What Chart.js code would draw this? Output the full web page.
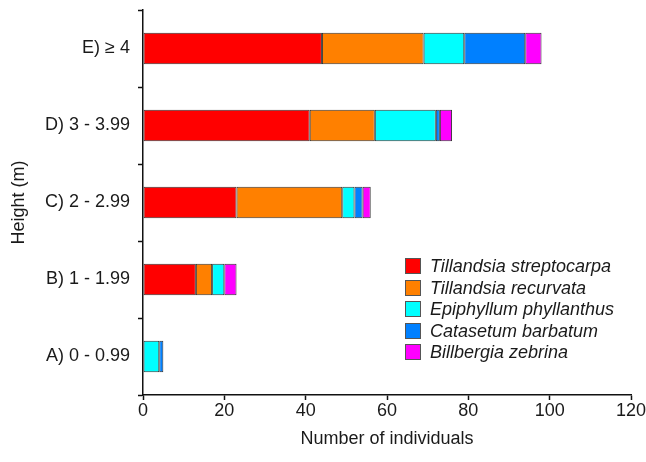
<!DOCTYPE html>
<html>
<head>
<meta charset="utf-8">
<script src="https://cdn.jsdelivr.net/npm/chart.js@4/dist/chart.umd.min.js"></script>
<style>
  html, body { margin: 0; padding: 0; background: #fff; }
  #wrap { width: 646px; height: 462px; position: relative; }
</style>
</head>
<body>
<div id="wrap"><canvas id="chart"></canvas></div>
<script>
// Data
const heightClasses = ['E) \u2265 4', 'D) 3 - 3.99', 'C) 2 - 2.99', 'B) 1 - 1.99', 'A) 0 - 0.99'];
const speciesNames = ['Tillandsia streptocarpa', 'Tillandsia recurvata', 'Epiphyllum phyllanthus', 'Catasetum barbatum', 'Billbergia zebrina'];
const streptocarpa = [44, 41, 23, 13, 0];
const recurvata = [25, 16, 26, 4, 0];
const epiphyllum = [10, 15, 3, 3, 4];
const catasetum = [15, 1, 2, 0, 1];
const billbergia = [4, 3, 2, 3, 0];
const speciesColors = ['#ff0000', '#ff8000', '#00ffff', '#0080ff', '#ff00ff'];
const xTicks = [0, 20, 40, 60, 80, 100, 120];

const seriesValues = [streptocarpa, recurvata, epiphyllum, catasetum, billbergia];
const FONT = '"Liberation Sans", Arial, sans-serif';

// legend drawn inside the plot area, lower right
const insideLegend = {
    id: 'insideLegend',
    afterDraw(chart) {
        const ctx = chart.ctx;
        const x = 405, y0 = 258, step = 21.5;
        ctx.save();
        ctx.font = 'italic 18px ' + FONT;
        ctx.textBaseline = 'middle';
        chart.data.datasets.forEach((ds, i) => {
            const y = Math.round(y0 + i * step);
            ctx.fillStyle = ds.backgroundColor;
            ctx.fillRect(x, y, 16, 16);
            ctx.strokeStyle = '#555';
            ctx.lineWidth = 1;
            ctx.strokeRect(x + 0.5, y + 0.5, 15, 15);
            ctx.fillStyle = '#1a1a1a';
            ctx.fillText(ds.label, x + 25, y + 9);
        });
        ctx.restore();
    }
};

const ctx = document.getElementById('chart').getContext('2d');
new Chart(ctx, {
    type: 'bar',
    data: {
        labels: heightClasses,
        datasets: speciesNames.map((name, i) => ({
            label: name,
            data: seriesValues[i],
            backgroundColor: speciesColors[i],
            borderColor: '#333',
            borderWidth: 1,
            borderSkipped: false,
            barPercentage: 0.41,
            categoryPercentage: 1
        }))
    },
    options: {
        indexAxis: 'y',
        responsive: true,
        maintainAspectRatio: false,
        animation: false,
        layout: { padding: { top: 10, right: 15, left: 0, bottom: 0 } },
        plugins: {
            legend: { display: false },
            tooltip: { enabled: false }
        },
        scales: {
            x: {
                stacked: true,
                min: 0,
                max: 120,
                afterBuildTicks: s => { s.ticks = xTicks.map(v => ({ value: v })); },
                afterFit: s => { s.height = 67; s.paddingLeft = 0; s.paddingRight = 0; },
                border: { color: '#111', width: 1.5 },
                grid: { drawOnChartArea: false, tickLength: 5, tickColor: '#111', tickWidth: 1.5 },
                ticks: {
                    color: '#1a1a1a',
                    padding: 0,
                    font: { family: FONT, size: 18 }
                },
                title: {
                    display: true,
                    text: 'Number of individuals',
                    color: '#1a1a1a',
                    padding: { top: 4, bottom: 12 },
                    font: { family: FONT, size: 18 }
                }
            },
            y: {
                stacked: true,
                afterFit: s => { s.width = 143; s.paddingTop = 0; s.paddingBottom = 0; },
                border: { color: '#111', width: 1.5 },
                grid: { offset: true, drawOnChartArea: false, tickLength: 5, tickColor: '#111', tickWidth: 1.5 },
                ticks: {
                    color: '#1a1a1a',
                    padding: 8,
                    font: { family: FONT, size: 18 }
                },
                title: {
                    display: true,
                    text: 'Height (m)',
                    color: '#1a1a1a',
                    padding: { top: 8, bottom: 0 },
                    font: { family: FONT, size: 18 }
                }
            }
        }
    },
    plugins: [insideLegend]
});
</script>
</body>
</html>
